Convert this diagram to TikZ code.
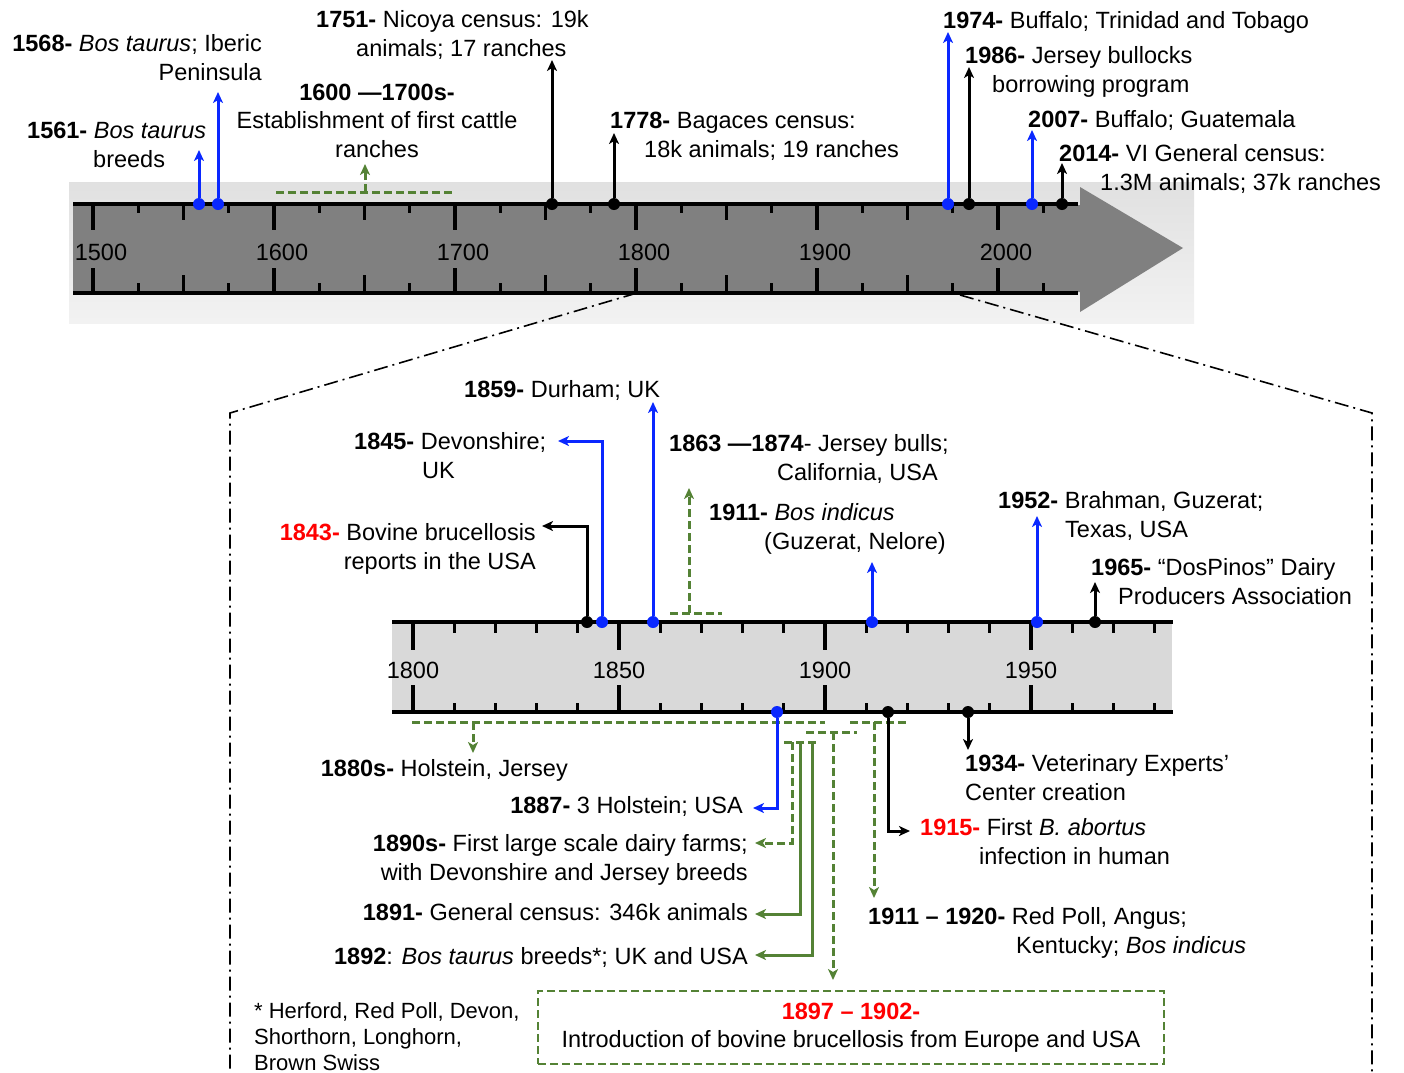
\documentclass[tikz,border=0pt]{standalone}
\usepackage{fontspec}
\setmainfont{Liberation Sans}
\usetikzlibrary{arrows.meta}
\definecolor{evblue}{RGB}{10,40,255}
\definecolor{evgreen}{RGB}{84,130,53}
\definecolor{evred}{RGB}{255,0,0}
\definecolor{bandgray}{RGB}{128,128,128}
\definecolor{insetgray}{RGB}{217,217,217}

\begin{document}
\begin{tikzpicture}[x=1pt,y=-1pt,
    >={Stealth[length=11pt,width=10pt,inset=3pt]},
    lbl/.style={font=\fontsize{23.5}{28.2}\selectfont, inner sep=0pt},
    note/.style={font=\fontsize{22}{26}\selectfont, inner sep=0pt},
    evdot/.style={circle, inner sep=0pt, minimum size=12pt},
    axisline/.style={line width=3.2pt},
    bev/.style={->, line width=3pt, draw=evblue},
    kev/.style={->, line width=3pt, draw=black},
    gsol/.style={line width=3pt, draw=evgreen},
    gdash/.style={line width=3pt, draw=evgreen, dash pattern=on 8pt off 4pt},
    zoomline/.style={line width=1.6pt, dash pattern=on 14pt off 5pt on 2pt off 5pt}]
\useasboundingbox (0,0) rectangle (1404,1072);

% 1500--2025 band
\shade[top color=black!12, middle color=black!20, bottom color=black!5] (69,182) rectangle (1194,323);
\fill[bandgray] (73,205) -- (1080,205) -- (1080,187) -- (1183,248) -- (1080,312) -- (1080,292) -- (73,292) -- cycle;
\draw[axisline] (73,204) -- (1078,204);
\draw[axisline] (73,293) -- (1078,293);
\foreach \k in {0,...,21} {
  \pgfmathsetmacro{\tickx}{93+45.25*\k}
  \pgfmathsetmacro{\tlen}{mod(\k,4)==0 ? 26 : (mod(\k,2)==0 ? 16 : 9)}
  \pgfmathsetmacro{\blen}{mod(\k,4)==0 ? 25 : (mod(\k,2)==0 ? 18 : 10)}
  \draw[axisline] (\tickx,204) -- ++(0,\tlen);
  \draw[axisline] (\tickx,293) -- ++(0,-\blen);
}
\foreach \yr [count=\i from 0] in {1500,1600,1700,1800,1900,2000}
  \node[lbl, anchor=base] (y\yr) at ({101+181*\i},260) {\yr};

% zoom lines
\draw[zoomline] (637,293) -- (230,413) -- (230,1072);
\draw[zoomline] (960,295) -- (1372,413) -- (1372,1072);

% 1800--1980 inset
\fill[insetgray] (392,622) rectangle (1172,712);
\draw[axisline] (392,622) -- (1173,622);
\draw[axisline] (392,712) -- (1173,712);
\foreach \k in {0,...,18} {
  \pgfmathsetmacro{\tickx}{413+41.2*\k}
  \pgfmathsetmacro{\tlen}{mod(\k,5)==0 ? 28 : 11}
  \pgfmathsetmacro{\blen}{mod(\k,5)==0 ? 27 : 9}
  \draw[axisline] (\tickx,622) -- ++(0,\tlen);
  \draw[axisline] (\tickx,712) -- ++(0,-\blen);
}
\foreach \yr [count=\i from 0] in {1800,1850,1900,1950}
  \node[lbl, anchor=base] (z\yr) at ({413+206*\i},678) {\yr};

% top events (base = last line)
\node[lbl, anchor=base east, align=right] (l1568) at (262,80) {\textbf{1568-} \textit{Bos taurus}; Iberic\\Peninsula};
\node[lbl, anchor=base west, align=left] (l1561) at (27,167) {\textbf{1561-} \textit{Bos taurus}\\\hspace*{66pt}breeds};
\node[lbl, anchor=base, align=center] (l1600) at (377,157) {\textbf{1600 —1700s-}\\Establishment of first cattle\\ranches};
\node[lbl, anchor=base west, align=left] (l1751) at (316,56) {\textbf{1751-} Nicoya census: 19k\\\hspace*{40pt}animals; 17 ranches};
\node[lbl, anchor=base west, align=left] (l1778) at (610,157) {\textbf{1778-} Bagaces census:\\\hspace*{34pt}18k animals; 19 ranches};
\node[lbl, anchor=base west] (l1974) at (943,28) {\textbf{1974-} Buffalo; Trinidad and Tobago};
\node[lbl, anchor=base west, align=left] (l1986) at (965,92) {\textbf{1986-} Jersey bullocks\\\hspace*{27pt}borrowing program};
\node[lbl, anchor=base west] (l2007) at (1028,127) {\textbf{2007-} Buffalo; Guatemala};
\node[lbl, anchor=base west, align=left] (l2014) at (1059,190) {\textbf{2014-} VI General census:\\\hspace*{41pt}1.3M animals; 37k ranches};

\draw[gdash] (276,192) -- (452,192);
\coordinate (g1600) at (365,192);
\coordinate (t1600) at (365,164);
\draw[gdash,->] (g1600) -- (t1600);

\node[evdot, fill=evblue] (d1561) at (199,204) {};
\node[evdot, fill=evblue] (d1568) at (218,204) {};
\node[evdot, fill=black] (d1751) at (552,204) {};
\node[evdot, fill=black] (d1778) at (614,204) {};
\node[evdot, fill=evblue] (d1974) at (948,204) {};
\node[evdot, fill=black] (d1986) at (969,204) {};
\node[evdot, fill=evblue] (d2007) at (1032,204) {};
\node[evdot, fill=black] (d2014) at (1062,204) {};
\coordinate (t1561) at (199,150);
\coordinate (t1568) at (218,92);
\coordinate (t1751) at (552,60);
\coordinate (t1778) at (614,133);
\coordinate (t1974) at (948,32);
\coordinate (t1986) at (969,67);
\coordinate (t2007) at (1032,130);
\coordinate (t2014) at (1062,163);
\draw[bev] (d1561) -- (t1561);
\draw[bev] (d1568) -- (t1568);
\draw[kev] (d1751) -- (t1751);
\draw[kev] (d1778) -- (t1778);
\draw[bev] (d1974) -- (t1974);
\draw[kev] (d1986) -- (t1986);
\draw[bev] (d2007) -- (t2007);
\draw[kev] (d2014) -- (t2014);

% inset events above
\node[lbl, anchor=base west] (l1859) at (464,397) {\textbf{1859-} Durham; UK};
\node[lbl, anchor=base west, align=left] (l1845) at (354,478) {\textbf{1845-} Devonshire;\\\hspace*{68pt}UK};
\node[lbl, anchor=base east, align=right] (l1843) at (536,569) {\textcolor{evred}{\textbf{1843-}} Bovine brucellosis\\reports in the USA};
\node[lbl, anchor=base west, align=left] (l1863) at (669,480) {\textbf{1863 —1874}- Jersey bulls;\\\hspace*{108pt}California, USA};
\node[lbl, anchor=base west, align=left] (l1911) at (709,549) {\textbf{1911-} \textit{Bos indicus}\\\hspace*{55pt}(Guzerat, Nelore)};
\node[lbl, anchor=base west, align=left] (l1952) at (998,537) {\textbf{1952-} Brahman, Guzerat;\\\hspace*{67pt}Texas, USA};
\node[lbl, anchor=base west, align=left] (l1965) at (1091,604) {\textbf{1965-} “DosPinos” Dairy\\\hspace*{27pt}Producers Association};

\draw[gdash] (670,613) -- (722,613);
\coordinate (g1863) at (689,613);
\coordinate (t1863) at (689,488);
\draw[gdash,->] (g1863) -- (t1863);

\node[evdot, fill=black] (d1843) at (587,622) {};
\node[evdot, fill=evblue] (d1845) at (602,622) {};
\node[evdot, fill=evblue] (d1859) at (653,622) {};
\node[evdot, fill=evblue] (d1911) at (872,622) {};
\node[evdot, fill=evblue] (d1952) at (1037,622) {};
\node[evdot, fill=black] (d1965) at (1095,622) {};
\coordinate (t1843) at (542,526);
\coordinate (t1845) at (558,441);
\coordinate (t1859) at (653,402);
\coordinate (t1911) at (872,562);
\coordinate (t1952) at (1037,516);
\coordinate (t1965) at (1095,582);
\draw[kev] (d1843) |- (t1843);
\draw[bev] (d1845) |- (t1845);
\draw[bev] (d1859) -- (t1859);
\draw[bev] (d1911) -- (t1911);
\draw[bev] (d1952) -- (t1952);
\draw[kev] (d1965) -- (t1965);

% inset events below
\node[lbl, anchor=base east] (l1880) at (568,776) {\textbf{1880s-} Holstein, Jersey};
\node[lbl, anchor=base east] (l1887) at (743,813) {\textbf{1887-} 3 Holstein; USA};
\node[lbl, anchor=base east, align=right] (l1890) at (748,880) {\textbf{1890s-} First large scale dairy farms;\\with Devonshire and Jersey breeds};
\node[lbl, anchor=base east] (l1891) at (748,920) {\textbf{1891-} General census: 346k animals};
\node[lbl, anchor=base east] (l1892) at (748,964) {\textbf{1892}: \textit{Bos taurus} breeds*; UK and USA};
\node[lbl, anchor=base west, align=left] (l1934) at (965,800) {\textbf{1934-} Veterinary Experts’\\Center creation};
\node[lbl, anchor=base west, align=left] (l1915) at (920,864) {\textcolor{evred}{\textbf{1915-}} First \textit{B. abortus}\\\hspace*{59pt}infection in human};
\node[lbl, anchor=base west, align=left] (l1920) at (868,953) {\textbf{1911 – 1920-} Red Poll, Angus;\\\hspace*{148pt}Kentucky; \textit{Bos indicus}};
\node[note, anchor=base west, align=left] (lnote) at (254,1070) {* Herford, Red Poll, Devon,\\Shorthorn, Longhorn,\\Brown Swiss};
\node[lbl, draw=evgreen, line width=2.5pt, dash pattern=on 8pt off 4pt, minimum width=626pt, minimum height=73pt, align=center] (intro) at (851,1027.5) {\textcolor{evred}{\textbf{1897 – 1902-}}\\Introduction of bovine brucellosis from Europe and USA};

\draw[gdash] (412,722) -- (825,722);
\draw[gdash] (850,722) -- (907,722);
\draw[gdash] (806,732) -- (857,732);
\draw[gdash] (784,742) -- (817,742);
\coordinate (g1880) at (473,722);
\coordinate (t1880) at (473,753);
\coordinate (g1890) at (792,742);
\coordinate (t1890) at (755,843);
\coordinate (g1891) at (800,742);
\coordinate (t1891) at (755,914);
\coordinate (g1892) at (812,742);
\coordinate (t1892) at (755,955);
\coordinate (g1897) at (833,732);
\coordinate (t1897) at (833,980);
\coordinate (g1920) at (874,722);
\coordinate (t1920) at (874,898);
\draw[gdash,->] (g1880) -- (t1880);
\draw[gdash,->] (g1890) |- (t1890);
\draw[gsol,->] (g1891) |- (t1891);
\draw[gsol,->] (g1892) |- (t1892);
\draw[gdash,->] (g1897) -- (t1897);
\draw[gdash,->] (g1920) -- (t1920);

\node[evdot, fill=evblue] (d1887) at (777,712) {};
\node[evdot, fill=black] (d1915) at (888,712) {};
\node[evdot, fill=black] (d1934) at (968,712) {};
\coordinate (t1887) at (753,808);
\coordinate (t1915) at (910,831);
\coordinate (t1934) at (968,750);
\draw[bev] (d1887) |- (t1887);
\draw[kev] (d1915) |- (t1915);
\draw[kev] (d1934) -- (t1934);
\end{tikzpicture}
\end{document}
